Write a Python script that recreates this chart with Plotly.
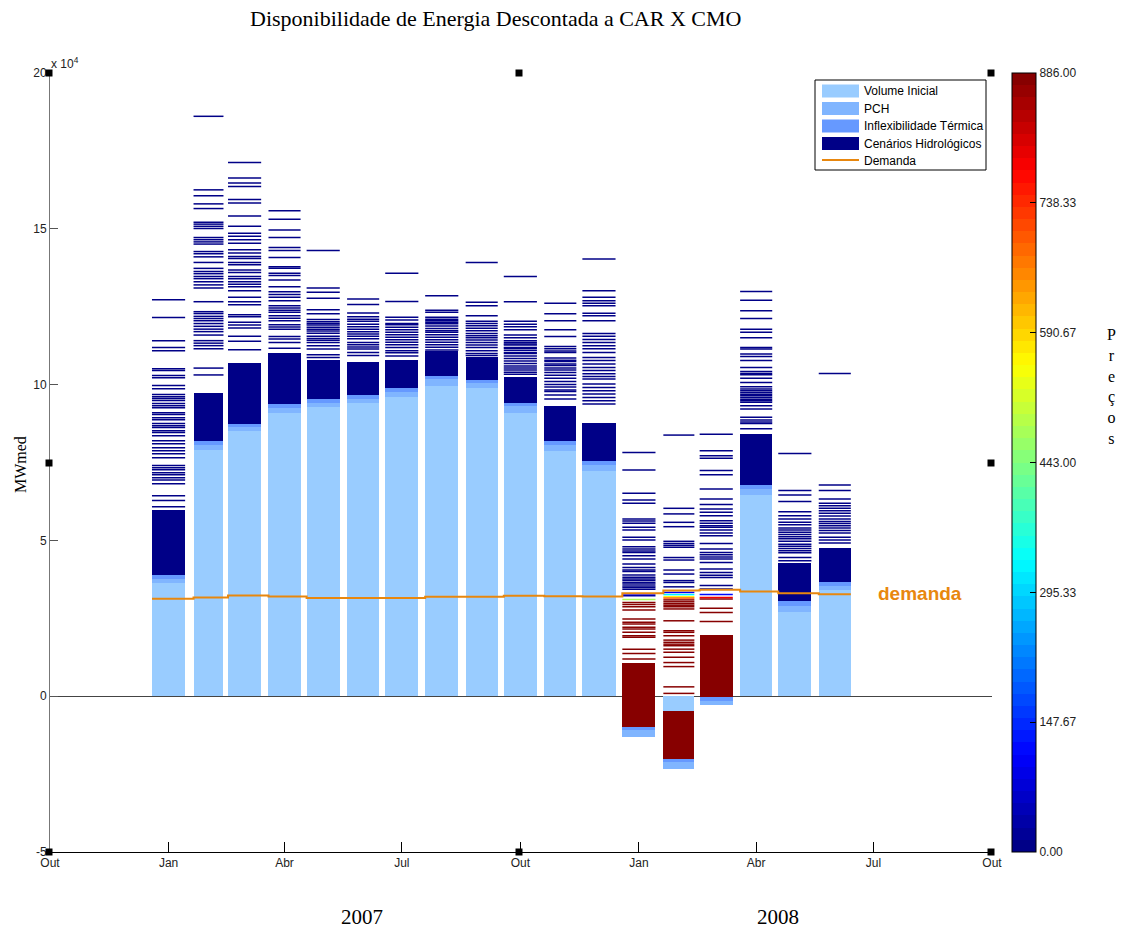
import calendar
import pandas as pd
import plotly.graph_objects as go

# ---------------- data (values in 10^4 MWmed) ----------------
meses = ['2007-01-01', '2007-02-01', '2007-03-01', '2007-04-01', '2007-05-01', '2007-06-01',
         '2007-07-01', '2007-08-01', '2007-09-01', '2007-10-01', '2007-11-01', '2007-12-01',
         '2008-01-01', '2008-02-01', '2008-03-01', '2008-04-01', '2008-05-01', '2008-06-01']

volume_inicial = [3.62, 7.91, 8.50, 9.10, 9.28, 9.40, 9.60, 9.97, 9.88, 9.09, 7.88, 7.24,
                  -1.32, -2.34, -0.28, 6.47, 2.71, 3.40]
pch = [0.14, 0.16, 0.13, 0.15, 0.14, 0.15, 0.15, 0.21, 0.17, 0.21, 0.18, 0.17,
       0.24, 0.22, 0.14, 0.18, 0.19, 0.15]
inflexibilidade = [0.13, 0.13, 0.11, 0.13, 0.12, 0.12, 0.14, 0.11, 0.11, 0.11, 0.12, 0.13,
                   0.10, 0.11, 0.13, 0.14, 0.17, 0.12]
cenarios = [2.09, 1.54, 1.96, 1.63, 1.25, 1.04, 0.90, 0.78, 0.74, 0.84, 1.14, 1.22,
            2.06, 1.55, 1.98, 1.62, 1.19, 1.09]
cenarios_preco = [0, 0, 0, 0, 0, 0, 0, 0, 0, 0, 0, 0, 886, 886, 886, 0, 0, 0]

demanda = [3.13, 3.17, 3.23, 3.20, 3.15, 3.15, 3.15, 3.19, 3.19, 3.22, 3.21, 3.20,
           3.30, 3.39, 3.42, 3.36, 3.30, 3.27]

linhas_cenarios = [
    [12.72, 12.15, 11.41, 11.19, 11.09, 10.51, 10.45, 10.29, 10.22, 9.97, 9.87, 9.68, 9.61, 9.55, 9.49,
     9.39, 9.32, 9.26, 9.10, 9.04, 8.94, 8.87, 8.75, 8.68, 8.62, 8.52, 8.46, 8.36, 8.20, 8.10, 7.97,
     7.88, 7.78, 7.65, 7.40, 7.33, 7.27, 7.17, 7.11, 7.01, 6.94, 6.82, 6.43, 6.28, 6.08],
    [18.61, 16.25, 16.06, 15.80, 15.65, 15.21, 15.15, 15.08, 15.01, 14.72, 14.65, 14.58, 14.51, 14.27,
     14.20, 14.10, 13.92, 13.73, 13.63, 13.56, 13.47, 13.40, 13.30, 13.20, 13.10, 12.66, 12.34, 12.28,
     12.19, 12.12, 12.05, 11.96, 11.87, 11.78, 11.70, 11.59, 11.41, 11.33, 11.25, 11.15, 10.53, 10.31],
    [17.13, 16.63, 16.47, 16.36, 15.94, 15.83, 15.41, 15.08, 14.86, 14.76, 14.65, 14.54, 14.33, 14.22,
     14.11, 14.05, 13.92, 13.85, 13.68, 13.60, 13.47, 13.40, 13.30, 13.22, 13.14, 13.01, 12.80, 12.66,
     12.56, 12.24, 12.18, 12.00, 11.91, 11.82, 11.55, 11.39, 11.12],
    [15.58, 15.31, 14.96, 14.72, 14.40, 14.30, 14.08, 13.78, 13.73, 13.57, 13.50, 13.36, 13.14, 12.98,
     12.89, 12.80, 12.69, 12.53, 12.46, 12.39, 12.32, 12.21, 12.13, 12.05, 11.92, 11.85, 11.78, 11.54,
     11.46, 11.35, 11.17],
    [14.30, 13.10, 12.96, 12.77, 12.40, 12.27, 12.09, 12.02, 11.96, 11.91, 11.84, 11.78, 11.72, 11.65,
     11.55, 11.48, 11.42, 11.35, 11.25, 11.14, 10.96, 10.87],
    [12.75, 12.57, 12.30, 12.18, 12.10, 12.03, 11.94, 11.86, 11.78, 11.70, 11.62, 11.55, 11.47, 11.35,
     11.28, 11.21, 11.14, 11.03, 10.93],
    [13.57, 12.67, 12.16, 12.07, 11.96, 11.92, 11.84, 11.76, 11.68, 11.60, 11.52, 11.44, 11.36, 11.28,
     11.19, 11.09, 11.02, 10.92],
    [12.85, 12.39, 12.32, 12.16, 12.10, 12.05, 12.00, 11.95, 11.88, 11.80, 11.73, 11.68, 11.60, 11.52,
     11.44, 11.36, 11.28, 11.20, 11.11],
    [13.92, 12.64, 12.53, 12.21, 12.03, 11.96, 11.89, 11.81, 11.73, 11.64, 11.57, 11.50, 11.43, 11.35,
     11.27, 11.19, 11.09, 11.00, 10.93],
    [13.47, 12.66, 12.03, 11.94, 11.86, 11.76, 11.59, 11.50, 11.41, 11.35, 11.30, 11.27, 11.19, 11.17,
     11.10, 11.03, 11.00, 10.92, 10.84, 10.76, 10.68, 10.60, 10.53, 10.47, 10.40, 10.33],
    [12.61, 12.27, 12.05, 11.76, 11.54, 11.22, 11.15, 11.08, 11.03, 10.85, 10.78, 10.74, 10.66, 10.61,
     10.53, 10.47, 10.39, 10.30, 10.20, 10.10, 10.00, 9.92, 9.83, 9.78, 9.67, 9.54],
    [14.03, 13.01, 12.80, 12.69, 12.61, 12.53, 12.29, 12.21, 12.05, 11.64, 11.55, 11.45, 11.35, 11.25,
     11.15, 11.03, 10.87, 10.77, 10.66, 10.55, 10.45, 10.35, 10.26, 10.18, 10.02, 9.91, 9.80, 9.70,
     9.59, 9.48, 9.38],
    [7.82, 7.26, 6.51, 6.30, 6.19, 5.69, 5.62, 5.55, 5.42, 5.33, 5.10, 5.01, 4.80, 4.72, 4.66, 4.61,
     4.51, 4.40, 4.24, 4.13, 4.05, 4.00, 3.89, 3.82, 3.76, 3.71, 3.65, 3.60, 3.54, 3.49, 3.43, 3.28,
     3.22, 3.10, 3.01, 2.94, 2.87, 2.77, 2.48, 2.37, 2.32, 2.21, 2.16, 2.05, 1.94, 1.89, 1.51, 1.37, 1.19],
    [8.38, 6.03, 5.85, 5.58, 5.44, 4.97, 4.90, 4.84, 4.78, 4.45, 4.37, 4.05, 3.92, 3.71, 3.65, 3.51,
     3.33, 3.26, 3.19, 3.15, 3.09, 3.03, 2.97, 2.92, 2.87, 2.80, 2.42, 2.10, 2.05, 1.94, 1.80, 1.73,
     1.67, 1.62, 1.51, 1.41, 1.25, 1.08, 0.95, 0.30, 0.09],
    [8.41, 7.88, 7.72, 7.64, 7.24, 7.11, 6.65, 6.33, 6.15, 6.01, 5.90, 5.79, 5.63, 5.55, 5.47, 5.42,
     5.33, 5.24, 5.15, 4.90, 4.72, 4.61, 4.54, 4.47, 4.40, 4.29, 4.08, 3.97, 3.88, 3.81, 3.55, 3.44,
     3.26, 3.17, 3.12, 2.82, 2.69, 2.40],
    [12.99, 12.71, 12.37, 12.12, 11.78, 11.68, 11.50, 11.19, 11.14, 10.98, 10.90, 10.77, 10.55, 10.42,
     10.36, 10.32, 10.20, 10.07, 9.93, 9.86, 9.80, 9.75, 9.69, 9.64, 9.59, 9.53, 9.48, 9.43, 9.32,
     9.22, 8.95, 8.86, 8.80, 8.75, 8.58],
    [7.79, 6.60, 6.46, 6.25, 5.92, 5.79, 5.69, 5.58, 5.50, 5.40, 5.33, 5.26, 5.19, 5.12, 5.05, 4.97,
     4.88, 4.81, 4.74, 4.67, 4.60, 4.45, 4.35],
    [10.36, 6.78, 6.60, 6.33, 6.19, 6.11, 6.03, 5.95, 5.87, 5.78, 5.69, 5.61, 5.54, 5.47, 5.40, 5.32,
     5.24, 5.10, 5.01, 4.92],
]

# prices (CMO) of each scenario line; months not listed are all at price 0
precos_linhas = {
    '2008-01-01': [0] * 31 + [110, 40, 480] + [886] * 15,
    '2008-02-01': [0] * 16 + [100, 330, 560, 700] + [886] * 21,
    '2008-03-01': [0] * 32 + [120, 780, 886, 886, 886, 886],
}

tick_datas = ['2006-10-01', '2007-01-01', '2007-04-01', '2007-07-01', '2007-10-01',
              '2008-01-01', '2008-04-01', '2008-07-01', '2008-10-01']
tick_textos = ['Out', 'Jan', 'Abr', 'Jul', 'Out', 'Jan', 'Abr', 'Jul', 'Out']
y_ticks = [-5, 0, 5, 10, 15, 20]
cbar_ticks = [0, 147.67, 295.33, 443.00, 590.67, 738.33, 886.00]
PMAX = 886.0

# ---------------- styling helpers ----------------
C_VOL = '#99CCFF'
C_PCH = '#80B5FF'
C_INF = '#6699FF'
C_DEM = '#E8870E'
SANS = 'Liberation Sans, Arial, sans-serif'
SERIF = 'Liberation Serif, Times New Roman, serif'


def jet(p):
    t = min(max(p / PMAX, 0.0), 1.0)
    idx = min(int(t * 64), 63)
    t = (idx + 0.5) / 64.0
    def cl(v):
        return min(max(v, 0.0), 1.0)
    r = cl(1.5 - abs(4 * t - 3))
    g = cl(1.5 - abs(4 * t - 2))
    b = cl(1.5 - abs(4 * t - 1))
    return 'rgb(%d,%d,%d)' % (round(r * 255), round(g * 255), round(b * 255))


colorscale = []
for i in range(64):
    c = jet((i + 0.5) / 64 * PMAX)
    colorscale.append([i / 64, c])
    colorscale.append([(i + 1) / 64, c])
colorscale[-1][0] = 1.0

centros = [pd.Timestamp(m) for m in meses]
DAY = 86400000.0
larguras = [0.83 * calendar.monthrange(c.year, c.month)[1] * DAY for c in centros]
esq = [c - pd.Timedelta(milliseconds=w / 2) for c, w in zip(centros, larguras)]
dir_ = [c + pd.Timedelta(milliseconds=w / 2) for c, w in zip(centros, larguras)]

base_pch = [v for v in volume_inicial]
base_inf = [v + p for v, p in zip(volume_inicial, pch)]
base_cen = [v + p + i for v, p, i in zip(volume_inicial, pch, inflexibilidade)]

fig = go.Figure()

common = dict(x=centros, width=larguras, marker_line_width=0, opacity=1,
              showlegend=False, hoverinfo='skip')
fig.add_trace(go.Bar(y=volume_inicial, base=[0] * len(meses), marker_color=C_VOL, **common))
fig.add_trace(go.Bar(y=pch, base=base_pch, marker_color=C_PCH, **common))
fig.add_trace(go.Bar(y=inflexibilidade, base=base_inf, marker_color=C_INF, **common))
fig.add_trace(go.Bar(y=cenarios, base=base_cen, marker_color=[jet(p) for p in cenarios_preco], **common))

# scenario lines grouped by colour
grupos = {}
for k, m in enumerate(meses):
    vals = linhas_cenarios[k]
    precos = precos_linhas.get(m, [0] * len(vals))
    for v, p in zip(vals, precos):
        c = jet(p)
        gx, gy = grupos.setdefault(c, ([], []))
        gx += [esq[k], dir_[k], None]
        gy += [v, v, None]
for c, (gx, gy) in grupos.items():
    fig.add_trace(go.Scatter(x=gx, y=gy, mode='lines', line=dict(color=c, width=1.5),
                             showlegend=False, hoverinfo='skip'))

# demand step line
dem_x = esq + [dir_[-1]]
dem_y = demanda + [demanda[-1]]
fig.add_trace(go.Scatter(x=dem_x, y=dem_y, mode='lines', line=dict(color=C_DEM, width=2, shape='hv'),
                         showlegend=False, hoverinfo='skip'))

# colour bar carrier
fig.add_trace(go.Scatter(
    x=[centros[0]], y=[-100], mode='markers', hoverinfo='skip', showlegend=False,
    marker=dict(size=1, opacity=0, color=[0], cmin=0, cmax=PMAX, colorscale=colorscale,
                showscale=True,
                colorbar=dict(x=(1012 - 50) / 942, xanchor='left', y=0.5, yanchor='middle',
                              len=1, lenmode='fraction', thickness=24, thicknessmode='pixels',
                              xpad=0, ypad=0, outlinewidth=1, outlinecolor='black',
                              tickvals=cbar_ticks, ticktext=['%.2f' % t for t in cbar_ticks],
                              ticks='inside', ticklen=6, tickcolor='black',
                              tickfont=dict(family=SANS, size=12, color='#222')))))

L, R, T, B = 50, 992, 73, 852
W, H = R - L, B - T


def px(x):
    return (x - L) / W


def py(y):
    return (B - y) / H


shapes = []
annotations = []

# legend box
shapes.append(dict(type='rect', xref='paper', yref='paper', x0=px(815), x1=px(986), y0=py(80), y1=py(170),
                   line=dict(color='black', width=1), fillcolor='white', layer='above'))
leg = [('Volume Inicial', C_VOL, 91), ('PCH', C_PCH, 108.5), ('Inflexibilidade Térmica', C_INF, 126),
       ('Cenários Hidrológicos', jet(0), 143.5)]
for txt, col, yc in leg:
    shapes.append(dict(type='rect', xref='paper', yref='paper', x0=px(822), x1=px(859),
                       y0=py(yc + 6.5), y1=py(yc - 6.5), line=dict(width=0), fillcolor=col, layer='above'))
    annotations.append(dict(text=txt, xref='paper', yref='paper', x=px(862), y=py(yc), xanchor='left',
                            yanchor='middle', showarrow=False, font=dict(family=SANS, size=12, color='black')))
shapes.append(dict(type='line', xref='paper', yref='paper', x0=px(822), x1=px(859), y0=py(160), y1=py(160),
                   line=dict(color=C_DEM, width=2), layer='above'))
annotations.append(dict(text='Demanda', xref='paper', yref='paper', x=px(862), y=py(161), xanchor='left',
                        yanchor='middle', showarrow=False, font=dict(family=SANS, size=12, color='black')))

# selection handles
for hx in (49, 519, 991):
    for hy in (73, 463, 852):
        if hx == 519 and hy == 463:
            continue
        shapes.append(dict(type='rect', xref='paper', yref='paper', x0=px(hx - 3.5), x1=px(hx + 3.5),
                           y0=py(hy + 3.5), y1=py(hy - 3.5), line=dict(width=0), fillcolor='black',
                           layer='above'))

annotations += [
    dict(text='Disponibilidade de Energia Descontada a CAR X CMO', xref='paper', yref='paper',
         x=px(495), y=py(18), xanchor='center', yanchor='middle', showarrow=False,
         font=dict(family=SERIF, size=22, color='black')),
    dict(text='MWmed', xref='paper', yref='paper', x=px(20), y=py(465), textangle=-90,
         xanchor='center', yanchor='middle', showarrow=False, font=dict(family=SERIF, size=16, color='black')),
    dict(text='x 10<sup>4</sup>', xref='paper', yref='paper', x=px(49), y=py(63), xanchor='left',
         yanchor='middle', showarrow=False, font=dict(family=SANS, size=12, color='#222')),
    dict(text='2007', xref='paper', yref='paper', x=px(362), y=py(917), xanchor='center', yanchor='middle',
         showarrow=False, font=dict(family=SERIF, size=21, color='black')),
    dict(text='2008', xref='paper', yref='paper', x=px(778), y=py(917), xanchor='center', yanchor='middle',
         showarrow=False, font=dict(family=SERIF, size=21, color='black')),
    dict(text='<b>demanda</b>', xref='paper', yref='paper', x=px(920), y=py(593), xanchor='center',
         yanchor='middle', showarrow=False, font=dict(family=SANS, size=19, color=C_DEM)),
    dict(text='P<br>r<br>e<br>ç<br>o<br>s', xref='paper', yref='paper', x=px(1111), y=py(386),
         xanchor='center', yanchor='middle', showarrow=False, font=dict(family=SERIF, size=16, color='black')),
]

fig.update_layout(
    width=1121, height=928, autosize=False,
    margin=dict(l=L, r=1121 - R, t=T, b=928 - B, pad=0),
    plot_bgcolor='white', paper_bgcolor='white',
    barmode='overlay', bargap=0,
    shapes=shapes, annotations=annotations,
    xaxis=dict(type='date', range=['2006-10-01', '2008-10-01'], tickvals=tick_datas, ticktext=tick_textos,
               ticks='inside', ticklen=10, tickcolor='black', showline=True, linecolor='black', linewidth=1,
               showgrid=False, zeroline=False, tickfont=dict(family=SANS, size=12, color='#222')),
    yaxis=dict(range=[-5, 20], tickvals=y_ticks, ticktext=[str(t) for t in y_ticks], ticks='inside',
               ticklen=8, tickcolor='#555', showline=True, linecolor='#777', linewidth=1, showgrid=False,
               zeroline=True, zerolinecolor='#444', zerolinewidth=1,
               tickfont=dict(family=SANS, size=12, color='#222')),
)

fig.write_html('out.html', config={'displayModeBar': False},
               post_script="document.body.style.margin='0px';document.body.style.overflow='hidden';")
